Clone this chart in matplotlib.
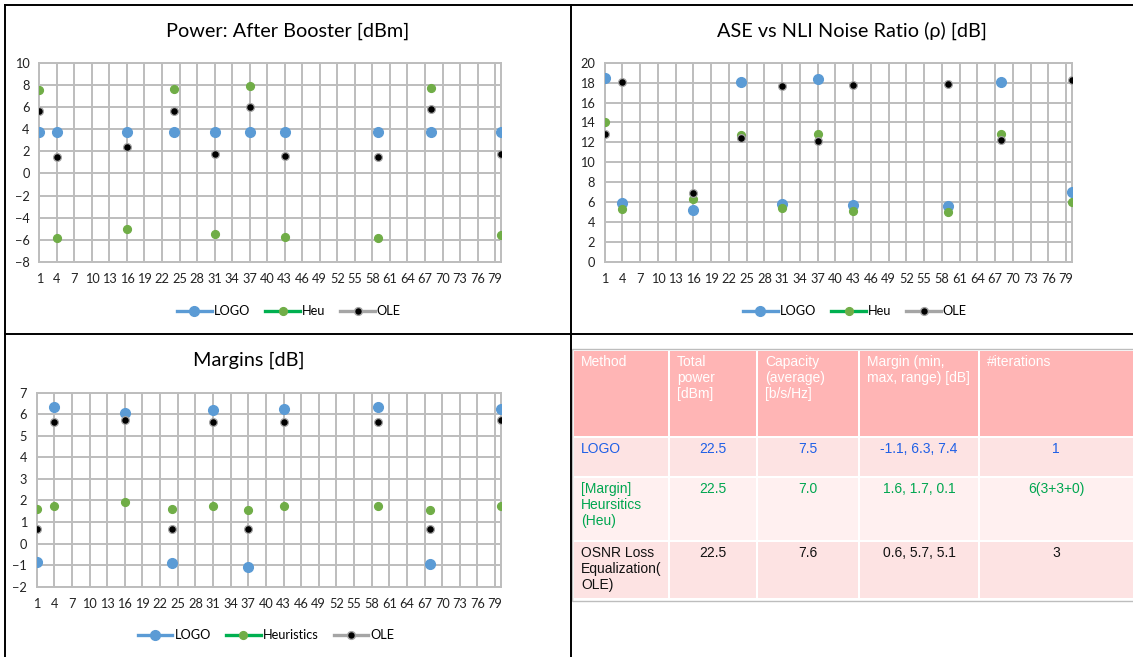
import matplotlib
matplotlib.use("Agg")
from matplotlib import pyplot as plt
from matplotlib.lines import Line2D
from matplotlib.patches import Rectangle

channels = [1, 4, 16, 24, 31, 37, 43, 59, 68, 80]

power_logo = [3.7, 3.7, 3.7, 3.7, 3.7, 3.7, 3.7, 3.7, 3.7, 3.7]
power_heu = [7.5, -5.8, -5.0, 7.6, -5.5, 7.9, -5.7, -5.85, 7.7, -5.55]
power_ole = [5.6, 1.5, 2.4, 5.6, 1.75, 6.0, 1.55, 1.45, 5.8, 1.75]

ase_logo = [18.5, 5.95, 5.25, 18.1, 5.85, 18.4, 5.75, 5.65, 18.1, 7.05]
ase_heu = [14.0, 5.3, 6.35, 12.75, 5.4, 12.8, 5.15, 5.05, 12.85, 6.0]
ase_ole = [12.85, 18.05, 6.9, 12.4, 17.65, 12.1, 17.75, 17.85, 12.2, 18.3]

margin_logo = [-0.87, 6.32, 6.06, -0.9, 6.18, -1.1, 6.24, 6.32, -0.97, 6.24]
margin_heu = [1.62, 1.76, 1.93, 1.6, 1.76, 1.58, 1.76, 1.76, 1.58, 1.76]
margin_ole = [0.68, 5.66, 5.73, 0.68, 5.62, 0.68, 5.62, 5.62, 0.68, 5.73]

x_ticks = list(range(1, 80, 3))

table_header = ["Method", "Total\npower\n[dBm]", "Capacity\n(average)\n[b/s/Hz]",
                "Margin (min,\nmax, range) [dB]", "#iterations"]
table_rows = [
    ["LOGO", "22.5", "7.5", "-1.1, 6.3, 7.4", "1"],
    ["[Margin]\nHeursitics\n(Heu)", "22.5", "7.0", "1.6, 1.7, 0.1", "6(3+3+0)"],
    ["OSNR Loss\nEqualization(\nOLE)", "22.5", "7.6", "0.6, 5.7, 5.1", "3"],
]
row_text_colors = ["#1F5FE6", "#00A650", "#111111"]

W, H = 1133, 657
fig = plt.figure(figsize=(W / 100, H / 100), dpi=100)
chart_font = "Lato"

def px_axes(left, top, right, bottom):
    return fig.add_axes([left / W, 1 - bottom / H, (right - left) / W, (bottom - top) / H])

def style_chart(ax, ylim, ystep):
    ax.set_xlim(1, 80)
    ax.set_ylim(*ylim)
    ax.set_xticks(x_ticks)
    ax.set_yticks(range(ylim[0], ylim[1] + 1, ystep))
    ax.grid(True, color="#BDBDBD", lw=1.4)
    ax.set_axisbelow(True)
    for s in ax.spines.values():
        s.set_color("#BDBDBD")
        s.set_linewidth(1.4)
    ax.tick_params(length=0, labelsize=9.2, colors="#222222")
    ax.tick_params(axis="x", pad=8)
    ax.tick_params(axis="y", pad=7)
    for lab in ax.get_xticklabels() + ax.get_yticklabels():
        lab.set_fontfamily(chart_font)

def draw_series(ax, logo, heu, ole):
    ax.plot(channels, logo, "o", ms=7.0, color="#5B9BD5", mec="#5B9BD5", zorder=3)
    ax.plot(channels, heu, "o", ms=5.6, color="#70AD47", mec="#70AD47", zorder=4)
    ax.plot(channels, ole, "o", ms=5.6, color="black", mec="#A5A5A5", mew=0.9, zorder=5)

def add_legend(ax, cx, cy, heu_label):
    handles = [
        Line2D([], [], color="#5B9BD5", lw=2.4, marker="o", ms=7.0, mfc="#5B9BD5", mec="#5B9BD5"),
        Line2D([], [], color="#00B050", lw=2.4, marker="o", ms=5.6, mfc="#70AD47", mec="#70AD47"),
        Line2D([], [], color="#A5A5A5", lw=2.4, marker="o", ms=5.6, mfc="black", mec="#A5A5A5"),
    ]
    ax.legend(handles, ["LOGO", heu_label, "OLE"], loc="center", ncol=3, frameon=False,
              bbox_to_anchor=(cx / W, 1 - cy / H), bbox_transform=fig.transFigure,
              prop={"family": chart_font, "size": 9.2}, handlelength=2.7,
              handletextpad=0.15, columnspacing=1.2)

ax1 = px_axes(39.3, 62.7, 501, 262)
draw_series(ax1, power_logo, power_heu, power_ole)
style_chart(ax1, (-8, 10), 2)
add_legend(ax1, 289, 311, "Heu")
fig.text(287.5 / W, 1 - 31 / H, "Power: After Booster [dBm]", ha="center", va="center",
         fontsize=14.3, family=chart_font)

ax2 = px_axes(604.7, 62.7, 1072, 262)
draw_series(ax2, ase_logo, ase_heu, ase_ole)
style_chart(ax2, (0, 20), 2)
add_legend(ax2, 855, 311, "Heu")
fig.text(851.5 / W, 1 - 31 / H, "ASE vs NLI Noise Ratio (\u03c1) [dB]", ha="center",
         va="center", fontsize=14.3, family=[chart_font, "DejaVu Sans"])

ax3 = px_axes(36.7, 392.7, 501, 586.7)
draw_series(ax3, margin_logo, margin_heu, margin_ole)
style_chart(ax3, (-2, 7), 1)
add_legend(ax3, 266, 635, "Heuristics")
fig.text(249 / W, 1 - 360 / H, "Margins [dB]", ha="center", va="center",
         fontsize=14.3, family=chart_font)

# table panel
tab = fig.add_axes([0, 0, 1, 1])
tab.set_xlim(0, W)
tab.set_ylim(H, 0)
tab.axis("off")
col_edges = [573, 669, 757, 859, 979, 1140]
row_edges = [350, 437, 477, 541, 599]
row_colors = ["#FFB5B5", "#FDE3E3", "#FFF0F0", "#FDE3E3"]
tab.add_patch(Rectangle((572, 348.5), 570, 252.5, facecolor="white", edgecolor="#BDBDBD", lw=1))
cells = [table_header] + table_rows
text_colors = ["white"] + row_text_colors
for r in range(len(cells)):
    for c in range(len(cells[r])):
        x0, x1 = col_edges[c], col_edges[c + 1]
        y0, y1 = row_edges[r], row_edges[r + 1]
        tab.add_patch(Rectangle((x0 + 1, y0 + 1), x1 - x0 - 2, y1 - y0 - 2,
                                facecolor=row_colors[r], edgecolor="none"))
        if r == 0 or c == 0:
            tx, ha = x0 + 8, "left"
        else:
            tx, ha = (x0 + min(x1, 1133)) / 2, "center"
        tab.text(tx, y0 + 5, cells[r][c], ha=ha, va="top", fontsize=10,
                 family="Liberation Sans", color=text_colors[r], linespacing=1.2)

# panel borders
for (xa, ya, xb, yb) in [(5, 5, 5, H), (5, 5, W, 5), (570.5, 5, 570.5, H), (5, 334, W, 334)]:
    fig.add_artist(Line2D([xa / W, xb / W], [1 - ya / H, 1 - yb / H], color="black", lw=1.4))

plt.savefig("out.png", dpi=100)
